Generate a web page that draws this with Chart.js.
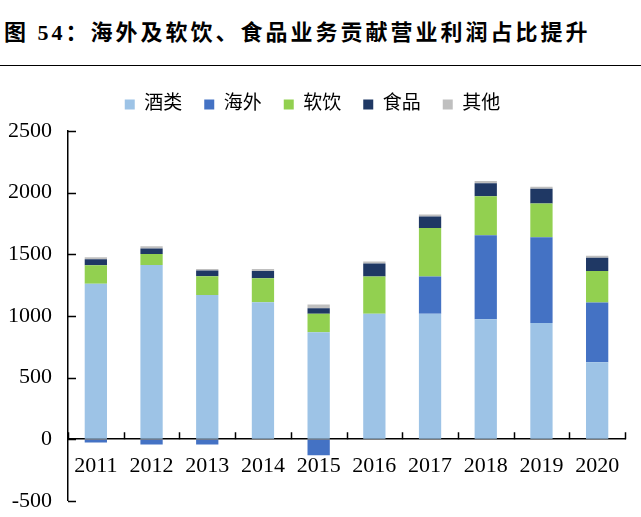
<!DOCTYPE html>
<html>
<head>
<meta charset="utf-8">
<script src="https://cdn.jsdelivr.net/npm/chart.js@4.4.0/dist/chart.umd.min.js"></script>
<style>
    html, body { margin: 0; background: #fff; overflow: hidden; }
    #title {
        position: absolute; left: 0; top: 0; width: 641px; height: 66px;
        border-bottom: 1px solid #000;
        font-family: 'Liberation Serif', 'Noto Sans CJK SC', serif;
        font-weight: bold; font-size: 22px; letter-spacing: 3px;
        line-height: 66px; padding-left: 4px; box-sizing: border-box;
        white-space: nowrap; color: #000;
    }
    #wrap { position: absolute; left: 0; top: 67px; width: 641px; height: 463px; }
</style>
</head>
<body>
<div id="title">图 54：海外及软饮、食品业务贡献营业利润占比提升</div>
<div id="wrap"><canvas id="myChart"></canvas></div>
<script>
const years = ['2011', '2012', '2013', '2014', '2015', '2016', '2017', '2018', '2019', '2020'];
const liquor = [1261, 1413, 1170, 1111, 867, 1017, 1017, 972, 942, 624];
const overseas = [-27, -43, -43, 0, -131, 0, 302, 682, 696, 484];
const softDrink = [150, 89, 152, 195, 150, 302, 394, 316, 273, 257];
const food = [48, 45, 46, 59, 45, 107, 94, 107, 121, 107];
const other = [16, 19, 13, 16, 30, 16, 16, 18, 16, 16];
const yTicks = [-500, 0, 500, 1000, 1500, 2000, 2500];

const serif = "'Liberation Serif', 'Noto Sans CJK SC', serif";

// ticks in the reference point inwards, so draw them here
const innerTicks = {
    id: 'innerTicks',
    beforeInit(chart) {
        // a bit more room under the legend
        const fit = chart.legend.fit;
        chart.legend.fit = function () {
            fit.call(this);
            this.height += 7;
        };
    },
    afterDraw(chart) {
        const ctx = chart.ctx;
        const area = chart.chartArea;
        const x = chart.scales.x;
        const y = chart.scales.y;
        ctx.save();
        ctx.strokeStyle = '#000';
        ctx.lineWidth = 1.5;
        ctx.beginPath();
        yTicks.forEach(v => {
            const py = Math.round(y.getPixelForValue(v)) + 0.5;
            ctx.moveTo(area.left, py);
            ctx.lineTo(area.left + 8, py);
        });
        const step = x.getPixelForValue(1) - x.getPixelForValue(0);
        const zero = y.getPixelForValue(0);
        for (let i = 0; i <= years.length; i++) {
            const px = Math.round(x.getPixelForValue(i) - step / 2) + 0.5;
            ctx.moveTo(px, zero);
            ctx.lineTo(px, zero - 7);
        }
        ctx.stroke();
        ctx.restore();
    }
};

const canvasContext = document.getElementById('myChart').getContext('2d');

const myChart = new Chart(canvasContext, {
    type: 'bar',
    data: {
        labels: years,
        datasets: [
            { label: '酒类', data: liquor, backgroundColor: '#9dc3e6' },
            { label: '海外', data: overseas, backgroundColor: '#4472c4' },
            { label: '软饮', data: softDrink, backgroundColor: '#92d050' },
            { label: '食品', data: food, backgroundColor: '#1f3864' },
            { label: '其他', data: other, backgroundColor: '#bfbfbf' }
        ].map(d => Object.assign(d, { borderWidth: 0, barPercentage: 0.4, categoryPercentage: 1 }))
    },
    options: {
        responsive: true,
        maintainAspectRatio: false,
        animation: false,
        layout: { padding: { top: 6, right: 16, bottom: 4, left: 0 } },
        plugins: {
            legend: {
                position: 'top',
                labels: {
                    boxWidth: 10, boxHeight: 10, padding: 22,
                    color: '#000',
                    font: { family: serif, size: 19 }
                }
            },
            tooltip: { enabled: false }
        },
        scales: {
            x: {
                stacked: true,
                position: { y: 0 },
                grid: { display: true, drawOnChartArea: false, drawTicks: false },
                border: { display: true, color: '#000', width: 1.5 },
                ticks: { color: '#000', padding: 14, font: { family: serif, size: 22 }, maxRotation: 0 }
            },
            y: {
                stacked: true,
                min: -500,
                max: 2500,
                afterFit(scale) { scale.width = 68; },
                grid: { display: true, drawOnChartArea: false, drawTicks: false },
                border: { display: true, color: '#000', width: 1.5 },
                ticks: {
                    stepSize: 500, color: '#000', padding: 16,
                    font: { family: serif, size: 22 },
                    callback: v => String(v)
                }
            }
        }
    },
    plugins: [innerTicks]
});
</script>
</body>
</html>
